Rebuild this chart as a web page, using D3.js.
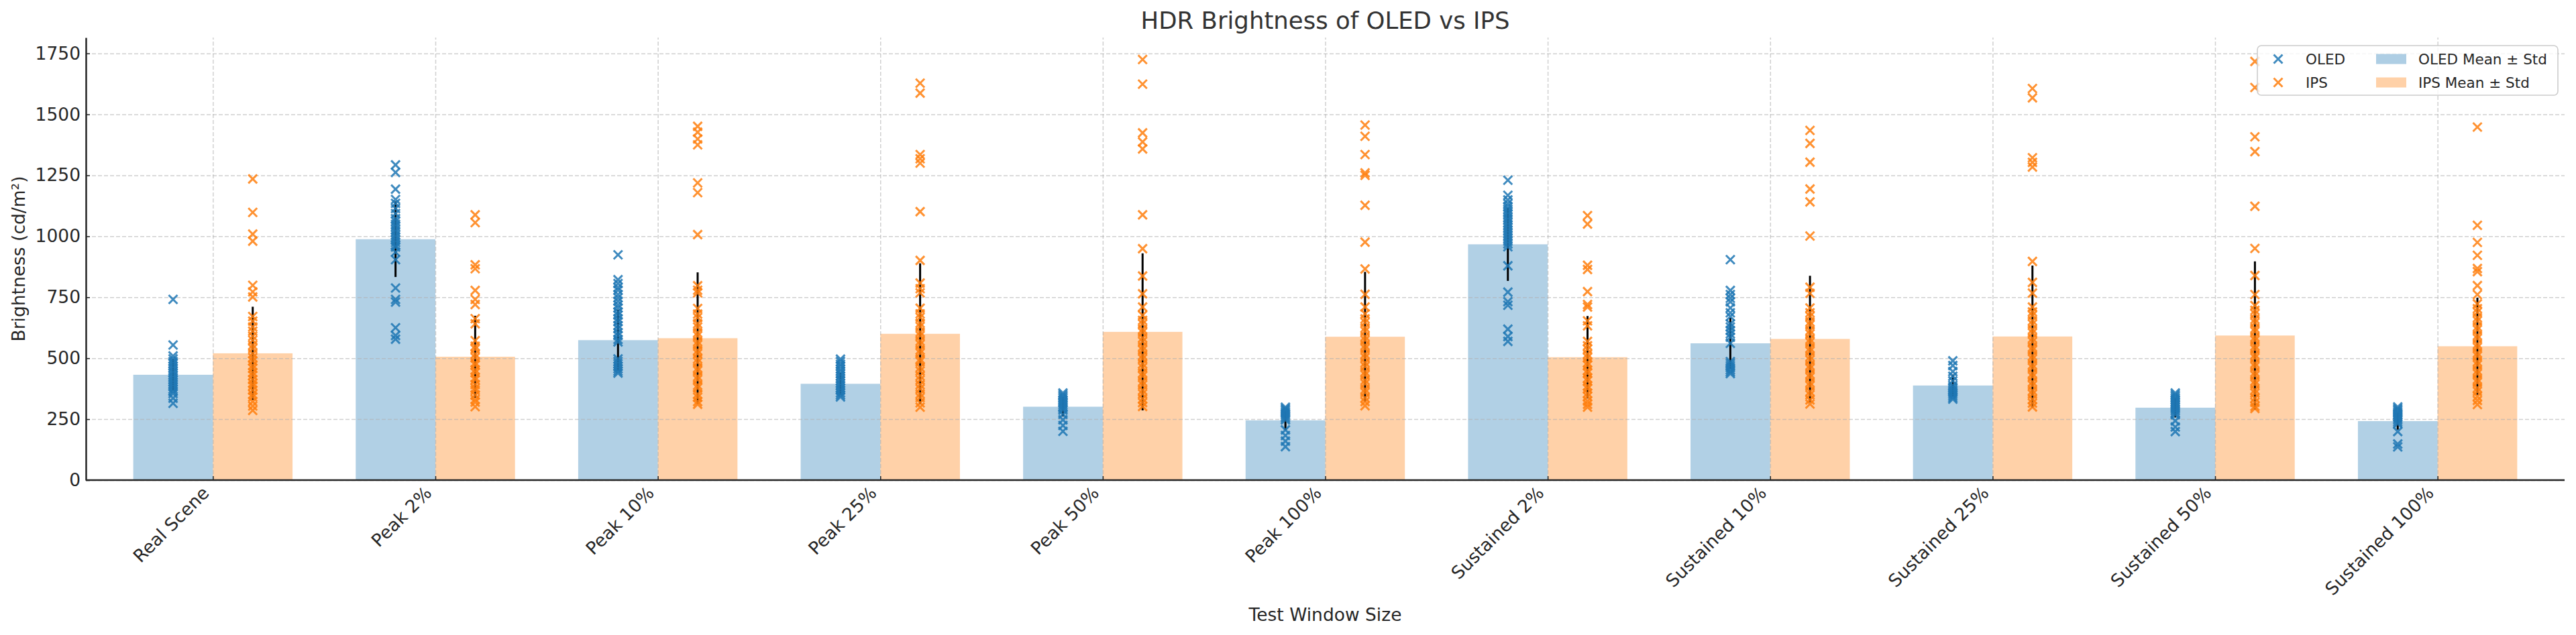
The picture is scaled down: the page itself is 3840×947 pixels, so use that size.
<!DOCTYPE html>
<html>
<head>
<meta charset="utf-8">
<script src="https://d3js.org/d3.v7.min.js"></script>
<style>
  body { margin: 0; background: #fff; }
  svg text { font-family: "DejaVu Sans", sans-serif; }
</style>
</head>
<body>
<div id="chart"></div>
<script>
// Data
const categories = ["Real Scene", "Peak 2%", "Peak 10%", "Peak 25%", "Peak 50%", "Peak 100%",
  "Sustained 2%", "Sustained 10%", "Sustained 25%", "Sustained 50%", "Sustained 100%"]

const oledMean = [432, 988, 574, 395, 301, 245, 967, 561, 388, 297, 242]
const oledStd  = [65, 155, 125, 45, 40, 40, 150, 105, 45, 40, 35]
const ipsMean  = [520, 506, 582, 600, 608, 588, 504, 579, 589, 593, 549]
const ipsStd   = [191, 168, 270, 289, 322, 266, 169, 259, 291, 304, 199]

const yTicks = [0, 250, 500, 750, 1000, 1250, 1500, 1750]

// individual measurements, one list per category
const oledPoints = [
  [741, 554, 509, 497, 486, 478, 467, 459, 447, 440, 429, 421, 410, 402, 392, 384, 373, 364, 355, 336, 315],
  [1293, 1262, 1193, 1151, 1135, 1114, 1093, 1072, 1061, 1049, 1040, 1027, 1018, 1005, 996, 984, 975, 962, 956, 935, 904, 788, 741, 730, 625, 593, 578],
  [924, 822, 806, 790, 779, 761, 748, 734, 718, 706, 690, 677, 662, 650, 634, 621, 605, 593, 577, 567, 497, 486, 477, 466, 457, 447, 439],
  [496, 486, 475, 467, 455, 447, 436, 427, 416, 408, 396, 388, 377, 369, 358, 349, 341],
  [357, 350, 343, 337, 329, 322, 316, 308, 301, 294, 287, 270, 247, 224, 200],
  [299, 293, 287, 280, 274, 268, 261, 254, 247, 206, 183, 160, 137],
  [1230, 1168, 1149, 1134, 1122, 1111, 1099, 1090, 1077, 1068, 1056, 1046, 1035, 1024, 1013, 1002, 991, 980, 969, 957, 879, 771, 732, 717, 619, 589, 569],
  [904, 778, 761, 746, 731, 706, 686, 671, 641, 628, 614, 600, 586, 561, 486, 478, 469, 461, 452, 444, 437],
  [489, 470, 445, 426, 407, 388, 380, 371, 364, 355, 347, 339, 332],
  [357, 350, 343, 336, 329, 321, 314, 307, 299, 292, 285, 276, 268, 243, 218, 199],
  [300, 293, 287, 280, 274, 267, 260, 253, 246, 238, 231, 199, 148, 136]
]

const ipsPoints = [
  [1235, 1098, 1009, 980, 799, 772, 751, 671, 652, 628, 611, 590, 574, 553, 540, 518, 503, 489, 470, 458, 441, 429, 412, 397, 386, 369, 352, 341, 322, 304, 286],
  [1088, 1056, 883, 867, 778, 741, 720, 662, 641, 572, 549, 538, 516, 503, 481, 472, 452, 441, 420, 411, 392, 377, 368, 349, 331, 320, 301],
  [1451, 1427, 1399, 1375, 1219, 1179, 1007, 797, 779, 768, 704, 681, 667, 641, 628, 604, 592, 568, 556, 531, 519, 497, 484, 460, 449, 425, 413, 389, 378, 352, 340, 322, 311],
  [1628, 1587, 1335, 1318, 1300, 1101, 901, 808, 785, 768, 705, 682, 668, 643, 630, 606, 593, 570, 557, 533, 521, 496, 486, 462, 448, 427, 411, 391, 375, 353, 339, 317, 299],
  [1725, 1624, 1424, 1387, 1358, 1088, 949, 837, 764, 710, 676, 655, 641, 618, 606, 583, 569, 547, 534, 511, 498, 476, 462, 439, 427, 404, 391, 368, 354, 333, 318, 302],
  [1456, 1410, 1335, 1260, 1250, 1127, 976, 866, 762, 710, 682, 661, 647, 624, 611, 588, 575, 552, 540, 516, 503, 481, 467, 444, 432, 409, 396, 372, 360, 337, 322, 305],
  [1085, 1050, 881, 864, 773, 720, 710, 653, 633, 569, 551, 537, 516, 503, 482, 471, 450, 439, 418, 407, 386, 375, 356, 343, 324, 311, 299],
  [1434, 1381, 1304, 1194, 1141, 1001, 791, 766, 706, 686, 672, 649, 637, 613, 600, 577, 565, 541, 529, 506, 493, 470, 458, 434, 422, 399, 387, 363, 350, 329, 312],
  [1606, 1568, 1322, 1303, 1284, 897, 811, 767, 710, 690, 676, 653, 640, 617, 604, 581, 568, 545, 533, 509, 497, 473, 461, 437, 425, 402, 389, 366, 353, 331, 316, 300],
  [1717, 1610, 1408, 1347, 1123, 950, 839, 761, 716, 696, 682, 659, 646, 622, 610, 586, 574, 550, 538, 514, 502, 478, 466, 442, 430, 406, 394, 370, 357, 336, 319, 303, 294],
  [1448, 1045, 975, 922, 868, 855, 798, 761, 723, 703, 689, 666, 653, 629, 617, 593, 581, 557, 545, 521, 509, 485, 473, 449, 437, 413, 401, 377, 364, 343, 327, 310]
]

const blue = "#1f77b4"
const orange = "#ff7f0e"

// Dimensions
const dims = { width: 3840, height: 947, left: 128, right: 3823, top: 56, bottom: 716 }
const barW = 0.358

const svg = d3.select("#chart")
  .append("svg")
  .attr("width", dims.width)
  .attr("height", dims.height)

// Scales
const xScale = d3.scaleLinear()
  .domain([-0.571, categories.length - 1 + 0.571])
  .range([dims.left, dims.right])

const yScale = d3.scaleLinear()
  .domain([0, 1815])
  .range([dims.bottom, dims.top])

// Bars
const bars = svg.append("g")
bars.selectAll(".oled-bar")
  .data(oledMean)
  .join("rect")
  .attr("x", (d, i) => xScale(i - barW))
  .attr("width", (d, i) => xScale(i) - xScale(i - barW))
  .attr("y", d => yScale(d))
  .attr("height", d => yScale(0) - yScale(d))
  .attr("fill", blue)
  .attr("fill-opacity", 0.35)

bars.selectAll(".ips-bar")
  .data(ipsMean)
  .join("rect")
  .attr("x", (d, i) => xScale(i))
  .attr("width", (d, i) => xScale(i + barW) - xScale(i))
  .attr("y", d => yScale(d))
  .attr("height", d => yScale(0) - yScale(d))
  .attr("fill", orange)
  .attr("fill-opacity", 0.36)

// Grid
const gridStyle = g => g.call(g => g.select(".domain").remove())
  .call(g => g.selectAll("line")
    .attr("stroke", "#b0b0b0")
    .attr("stroke-opacity", 0.6)
    .attr("stroke-width", 1.5)
    .attr("stroke-dasharray", "6,3"))

svg.append("g")
  .attr("transform", `translate(${dims.left},0)`)
  .call(d3.axisLeft(yScale).tickValues(yTicks).tickSize(-(dims.right - dims.left)).tickFormat(""))
  .call(gridStyle)

svg.append("g")
  .attr("transform", `translate(0,${dims.bottom})`)
  .call(d3.axisBottom(xScale).tickValues(d3.range(categories.length)).tickSize(-(dims.bottom - dims.top)).tickFormat(""))
  .call(gridStyle)

// Error bars
const errs = svg.append("g").attr("stroke", "#000").attr("stroke-width", 3)
errs.selectAll(".oled-err")
  .data(oledMean)
  .join("line")
  .attr("x1", (d, i) => xScale(i - barW / 2))
  .attr("x2", (d, i) => xScale(i - barW / 2))
  .attr("y1", (d, i) => yScale(d - oledStd[i]))
  .attr("y2", (d, i) => yScale(d + oledStd[i]))

errs.selectAll(".ips-err")
  .data(ipsMean)
  .join("line")
  .attr("x1", (d, i) => xScale(i + barW / 2))
  .attr("x2", (d, i) => xScale(i + barW / 2))
  .attr("y1", (d, i) => yScale(d - ipsStd[i]))
  .attr("y2", (d, i) => yScale(d + ipsStd[i]))

// Scatter of individual measurements
const cross = "M-6.5,-6.5L6.5,6.5M-6.5,6.5L6.5,-6.5"
const flatten = (lists, offset) => lists.flatMap((vals, i) => vals.map(v => ({ i, v, offset })))

svg.append("g")
  .selectAll("path")
  .data(flatten(oledPoints, -barW / 2).concat(flatten(ipsPoints, barW / 2)))
  .join("path")
  .attr("d", cross)
  .attr("transform", d => `translate(${xScale(d.i + d.offset)},${yScale(d.v)})`)
  .attr("stroke", d => d.offset < 0 ? blue : orange)
  .attr("stroke-width", 3)
  .attr("stroke-opacity", 0.85)
  .attr("fill", "none")

// Axes
const axisY = svg.append("g")
  .attr("transform", `translate(${dims.left},0)`)
  .call(d3.axisLeft(yScale).tickValues(yTicks).tickSize(-6).tickSizeOuter(0).tickPadding(8)
    .tickFormat(d3.format("d")))
axisY.select(".domain").attr("stroke", "#262626").attr("stroke-width", 2.5)
axisY.selectAll("line").attr("stroke", "#262626").attr("stroke-width", 1.5)
axisY.selectAll("text").attr("font-size", 26.5).attr("fill", "#262626")

const axisX = svg.append("g")
  .attr("transform", `translate(0,${dims.bottom})`)
  .call(d3.axisBottom(xScale).tickValues(d3.range(categories.length)).tickSize(-6).tickSizeOuter(0)
    .tickFormat(i => categories[i]))
axisX.select(".domain").attr("stroke", "#262626").attr("stroke-width", 2.5)
  .attr("d", `M${dims.left},0H${dims.right}`)
axisX.selectAll("line").attr("stroke", "#262626").attr("stroke-width", 1.5)
axisX.selectAll("text")
  .attr("font-size", 26.5)
  .attr("fill", "#262626")
  .attr("x", 0).attr("y", 0).attr("dy", null)
  .attr("text-anchor", "end")
  .attr("transform", "translate(-4.5,21) rotate(-45)")

// Labels
svg.append("text")
  .attr("x", (dims.left + dims.right) / 2)
  .attr("y", 42.5)
  .attr("text-anchor", "middle")
  .attr("font-size", 35.5)
  .attr("fill", "#333")
  .text("HDR Brightness of OLED vs IPS")

svg.append("text")
  .attr("x", (dims.left + dims.right) / 2)
  .attr("y", 926)
  .attr("text-anchor", "middle")
  .attr("font-size", 26.5)
  .attr("fill", "#262626")
  .text("Test Window Size")

svg.append("text")
  .attr("transform", `translate(37,${(dims.top + dims.bottom) / 2}) rotate(-90)`)
  .attr("text-anchor", "middle")
  .attr("font-size", 26.5)
  .attr("fill", "#262626")
  .text("Brightness (cd/m²)")

// Legend
const legend = svg.append("g").attr("transform", "translate(3365,68)")
legend.append("rect")
  .attr("width", 448).attr("height", 74).attr("rx", 6)
  .attr("fill", "#fff").attr("fill-opacity", 0.8)
  .attr("stroke", "#cccccc").attr("stroke-width", 1.6)

const legendItems = [
  { label: "OLED", color: blue, kind: "marker", col: 0, row: 0 },
  { label: "IPS", color: orange, kind: "marker", col: 0, row: 1 },
  { label: "OLED Mean ± Std", color: blue, kind: "patch", col: 1, row: 0 },
  { label: "IPS Mean ± Std", color: orange, kind: "patch", col: 1, row: 1 }
]

const item = legend.selectAll(".item")
  .data(legendItems)
  .join("g")
  .attr("transform", d => `translate(${d.col ? 177 : 31},${d.row ? 55 : 20})`)

item.filter(d => d.kind === "marker").append("path")
  .attr("d", cross)
  .attr("stroke", d => d.color)
  .attr("stroke-width", 3)
  .attr("stroke-opacity", 0.85)

item.filter(d => d.kind === "patch").append("rect")
  .attr("x", 0).attr("y", -7.5).attr("width", 45).attr("height", 15)
  .attr("fill", d => d.color).attr("fill-opacity", 0.36)

item.append("text")
  .attr("x", d => d.kind === "marker" ? 41 : 63)
  .attr("dy", "0.36em")
  .attr("font-size", 21.5)
  .attr("fill", "#262626")
  .text(d => d.label)
</script>
</body>
</html>
